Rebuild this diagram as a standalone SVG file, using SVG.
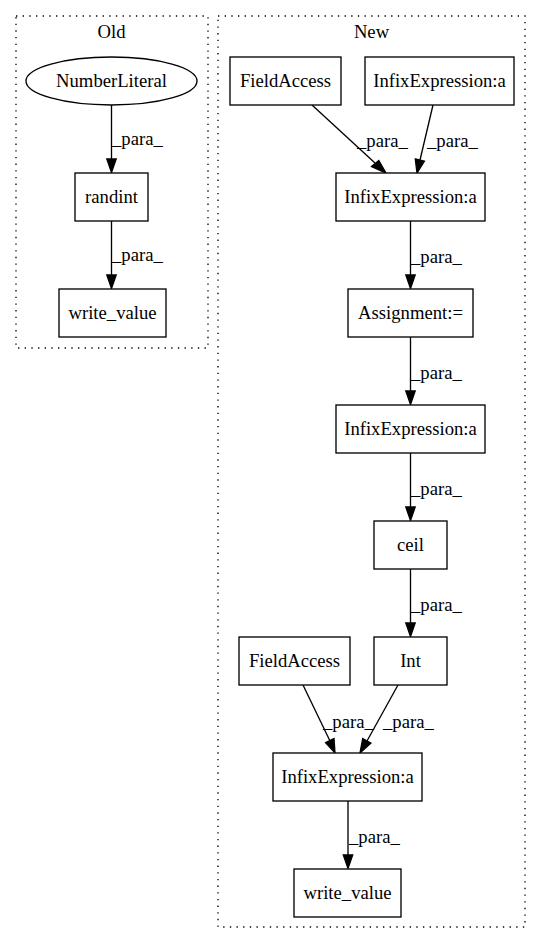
<svg xmlns="http://www.w3.org/2000/svg" width="541" height="944" viewBox="0 0 541 944">
<style>
text{font-family:"Liberation Serif","Times New Roman",serif;font-size:18.67px;fill:#000}
.n{text-anchor:middle}
.box{fill:#fff;stroke:#000;stroke-width:1.33}
.cl{fill:none;stroke:#000;stroke-width:1.33;stroke-dasharray:1.33,5.33}
.e{fill:none;stroke:#000;stroke-width:1.33}
.ah{fill:#000;stroke:#000;stroke-width:1.33}
</style>
<rect width="541" height="944" fill="#fff"/>
<g id="cluster_old">
<rect class="cl" x="16" y="16" width="192" height="332"/>
<text class="n" x="111.5" y="38">Old</text>
</g>
<g id="cluster_new">
<rect class="cl" x="218" y="16" width="307" height="911"/>
<text class="n" x="371.5" y="38">New</text>
</g>
<g id="connectors">
<path class="e" d="M111.5,105 L111.5,159"/>
<polygon class="ah" points="106.8,159 116.2,159 111.5,172.5"/>
<text x="112" y="145">_para_</text>
<path class="e" d="M111.5,221 L111.5,275"/>
<polygon class="ah" points="106.8,275 116.2,275 111.5,288.5"/>
<text x="112" y="261">_para_</text>

<path class="e" d="M312,105 L375,163"/>
<polygon class="ah" points="371.5,166.5 378.8,160.4 386,173"/>
<text x="357" y="147">_para_</text>
<path class="e" d="M433,105 L420,160"/>
<polygon class="ah" points="415.3,159 424.4,161.2 417,173"/>
<text x="427" y="147">_para_</text>

<path class="e" d="M410.5,221 L410.5,275"/>
<polygon class="ah" points="405.8,275 415.2,275 410.5,288.5"/>
<text x="411" y="263">_para_</text>
<path class="e" d="M410.5,337 L410.5,391"/>
<polygon class="ah" points="405.8,391 415.2,391 410.5,404.5"/>
<text x="411" y="379">_para_</text>
<path class="e" d="M410.5,453 L410.5,507"/>
<polygon class="ah" points="405.8,507 415.2,507 410.5,520.5"/>
<text x="411" y="495">_para_</text>
<path class="e" d="M410.5,569 L410.5,623"/>
<polygon class="ah" points="405.8,623 415.2,623 410.5,636.5"/>
<text x="411" y="611">_para_</text>

<path class="e" d="M303,685 L330,741"/>
<polygon class="ah" points="325.6,742.6 334,738.6 335,753"/>
<text x="323" y="728">_para_</text>
<path class="e" d="M398,685 L367,741"/>
<polygon class="ah" points="362.7,738.5 370.9,743.1 360,753"/>
<text x="383" y="728">_para_</text>

<path class="e" d="M348,801 L348,855"/>
<polygon class="ah" points="343.3,855 352.7,855 348,868.5"/>
<text x="349" y="843">_para_</text>
</g>
<g id="old_numberliteral">
<ellipse class="box" cx="111.5" cy="81" rx="85.5" ry="24"/>
<text class="n" x="111.5" y="87">NumberLiteral</text>
</g>
<g id="old_randint">
<rect class="box" x="75" y="173" width="73" height="48"/>
<text class="n" x="111.5" y="203">randint</text>
</g>
<g id="old_write_value">
<rect class="box" x="59" y="289" width="107" height="48"/>
<text class="n" x="112.5" y="319">write_value</text>
</g>
<g id="new_fieldaccess_top">
<rect class="box" x="230" y="57" width="111" height="48"/>
<text class="n" x="285.5" y="87">FieldAccess</text>
</g>
<g id="new_infix_top">
<rect class="box" x="365" y="57" width="149" height="48"/>
<text class="n" x="439.5" y="87">InfixExpression:a</text>
</g>
<g id="new_infix_2">
<rect class="box" x="336" y="173" width="149" height="48"/>
<text class="n" x="410.5" y="203">InfixExpression:a</text>
</g>
<g id="new_assignment">
<rect class="box" x="348" y="289" width="125" height="48"/>
<text class="n" x="410.5" y="319">Assignment:=</text>
</g>
<g id="new_infix_3">
<rect class="box" x="336" y="405" width="149" height="48"/>
<text class="n" x="410.5" y="435">InfixExpression:a</text>
</g>
<g id="new_ceil">
<rect class="box" x="374" y="521" width="73" height="48"/>
<text class="n" x="410.5" y="551">ceil</text>
</g>
<g id="new_fieldaccess_bottom">
<rect class="box" x="239" y="637" width="111" height="48"/>
<text class="n" x="294.5" y="667">FieldAccess</text>
</g>
<g id="new_int">
<rect class="box" x="374" y="637" width="73" height="48"/>
<text class="n" x="410.5" y="667">Int</text>
</g>
<g id="new_infix_bottom">
<rect class="box" x="273" y="753" width="149" height="48"/>
<text class="n" x="347.5" y="783">InfixExpression:a</text>
</g>
<g id="new_write_value">
<rect class="box" x="294" y="869" width="107" height="48"/>
<text class="n" x="347.5" y="899">write_value</text>
</g>
</svg>
